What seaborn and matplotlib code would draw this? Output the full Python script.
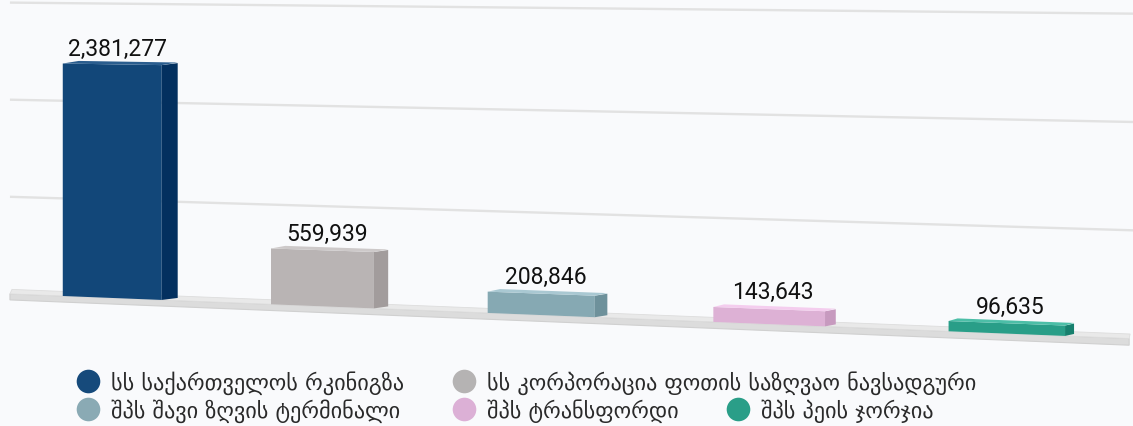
import numpy as np
import pandas as pd
import matplotlib
matplotlib.use("Agg")
import matplotlib.pyplot as plt
import matplotlib.transforms as mtransforms
from matplotlib.patches import Polygon
import seaborn as sns

# ---------------- data ----------------
companies = [
    "სს საქართველოს რკინიგზა",
    "სს კორპორაცია ფოთის საზღვაო ნავსადგური",
    "შპს შავი ზღვის ტერმინალი",
    "შპს ტრანსფორდი",
    "შპს პეის ჯორჯია",
]
values = [2381277, 559939, 208846, 143643, 96635]
value_labels = ["2,381,277", "559,939", "208,846", "143,643", "96,635"]
grid_values = [1_000_000, 2_000_000, 3_000_000]

front_colors = ["#124779", "#b9b4b4", "#86a9b3", "#ddb1d5", "#299e88"]
side_colors = ["#03305f", "#a29c9c", "#6e919b", "#c79abf", "#17806e"]
top_colors = ["#2a5d8e", "#cdc9c9", "#a9c8d2", "#f4cdee", "#4cbea7"]
legend_colors = ["#164a7b", "#b5b3b3", "#8aaab4", "#dcb0d6", "#2a9e88"]

W, H = 1133, 427
BG = "#f9fafc"

sns.set_theme(style="white")
plt.rcParams["font.family"] = ["DejaVu Sans"]

# perspective parameters (pixel space, y measured from top)
VPX, VPY = -9700.0, -92.0


def to_pixels(u, v):
    u = np.asarray(u, float)
    v = np.asarray(v, float)
    X = (203.9 * u + 112.0) / (1.0 - 0.0196 * u)
    y0 = 294.5 - 97.0 * v / 1e6
    Y = VPY + (y0 - VPY) * (X - VPX) / (-VPX)
    return X, Y


class Perspective(mtransforms.Transform):
    input_dims = 2
    output_dims = 2
    is_separable = False
    has_inverse = False

    def transform_non_affine(self, values):
        pts = np.asarray(values, float).reshape(-1, 2)
        px, py = to_pixels(pts[:, 0], pts[:, 1])
        return np.column_stack([px / W, 1.0 - py / H])


def pix2ax(pts):
    return [(x / W, 1.0 - y / H) for x, y in pts]


fig = plt.figure(figsize=(W / 100, H / 100), dpi=100, facecolor=BG)
ax = fig.add_axes([0, 0, 1, 1])
ax.set_axis_off()
ax.set_facecolor(BG)

df = pd.DataFrame({"company": companies, "value": values})
sns.barplot(data=df, x="company", y="value", hue="company", palette=front_colors,
            width=0.48, ax=ax, legend=False, saturation=1, linewidth=0,
            edgecolor="none", err_kws={"linewidth": 0})

persp = Perspective() + ax.transAxes
bars = list(ax.patches)

# gridlines
for g in grid_values:
    ax.plot([-0.5, 4.56], [g, g], transform=persp, color="#e2e2e2", lw=1.7,
            zorder=1, solid_capstyle="butt")

# floor slab
floor_front = Polygon([(-0.5, -62000), (4.5, -62000), (4.5, 0), (-0.5, 0)],
                      closed=True, transform=persp, facecolor="#dcdcdc",
                      edgecolor="#d0d0d0", lw=0.8, zorder=1.5)
ax.add_patch(floor_front)
fl_x0, fl_y0 = to_pixels(-0.5, 0)
fl_x1, fl_y1 = to_pixels(4.5, 0)
floor_top = Polygon(pix2ax([(fl_x0, fl_y0), (fl_x1, fl_y1), (fl_x1 + 1, fl_y1 - 4.5),
                            (fl_x0 + 2, fl_y0 - 4.5)]),
                    closed=True, transform=ax.transAxes, facecolor="#e9e9e9",
                    edgecolor="#dddddd", lw=0.6, zorder=1.6)
ax.add_patch(floor_top)

for i, p in enumerate(bars):
    p.set_transform(persp)
    p.set_zorder(3)
    xl = p.get_x()
    xr = xl + p.get_width()
    h = p.get_height()
    uc = xl + p.get_width() / 2
    dx, dy = 16.0 - 1.75 * uc, -2.0
    blx, bly = to_pixels(xr, 0)
    tlx, tly = to_pixels(xr, h)
    flx, fly = to_pixels(xl, h)
    side = Polygon(pix2ax([(blx, bly), (tlx, tly), (tlx + dx, tly + dy), (blx + dx, bly + dy)]),
                   closed=True, transform=ax.transAxes, facecolor=side_colors[i],
                   edgecolor="none", zorder=3)
    top = Polygon(pix2ax([(flx, fly), (tlx, tly), (tlx + dx, tly + dy - 0.6), (flx + dx, fly + dy - 0.6)]),
                  closed=True, transform=ax.transAxes, facecolor=top_colors[i],
                  edgecolor="none", zorder=3.1)
    ax.add_patch(side)
    ax.add_patch(top)
    cx = (flx + tlx) / 2 + dx / 3
    ax.text(cx / W, 1 - (min(fly, tly) - 8.5) / H, value_labels[i],
            transform=ax.transAxes, ha="center", va="baseline",
            fontsize=16.5, family=["Roboto", "DejaVu Sans"], color="#111111", zorder=5)

# legend (flow layout)
legend_pos = [(88, 382), (464, 382), (88, 410), (464, 410), (738, 410)]
for i, (lx, ly) in enumerate(legend_pos):
    ax.plot([lx / W], [1 - ly / H], marker="o", ms=17, color=legend_colors[i],
            mec="none", transform=ax.transAxes, clip_on=False, zorder=5)
    ax.text((lx + 23) / W, 1 - (ly + 1) / H, companies[i], transform=ax.transAxes,
            ha="left", va="center", fontsize=16, color="#2a2a2a",
            family=["DejaVu Sans"], zorder=5)

ax.set_xlim(0, 1)
ax.set_ylim(0, 1)
fig.savefig("out.png", dpi=100, facecolor=BG)
